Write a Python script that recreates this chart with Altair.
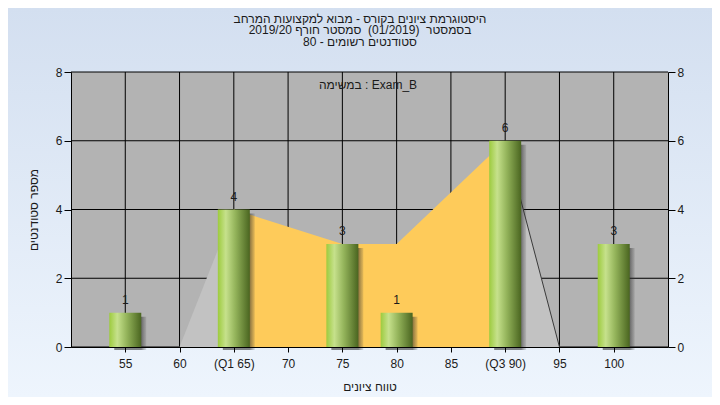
import altair as alt
import pandas as pd

# ---------------- data ----------------
ticks = [55, 60, 65, 70, 75, 80, 85, 90, 95, 100]
tick_labels = ["55", "60", "(Q1 65)", "70", "75", "80", "85", "(Q3 90)", "95", "100"]
bar_x = [55, 65, 75, 80, 90, 100]
bar_counts = [1, 4, 3, 1, 6, 3]
poly_x = [60, 65, 75, 80, 90, 95]
poly_y = [0, 4, 3, 3, 6, 0]
q1, q3 = 65, 90
y_ticks = [0, 2, 4, 6, 8]
title_lines = [
    "היסטוגרמת ציונים בקורס - מבוא למקצועות המרחב",
    "בסמסטר\u00a0 (01/2019)\u00a0 סמסטר חורף 2019/20",
    "סטודנטים רשומים - 80",
]
inner_text = "במשימה : Exam_B"
x_title = "טווח ציונים"
y_title = "מספר סטודנטים"

# ---------------- layout / style ----------------
W, H = 597, 275
PAD = {"left": 63, "top": 64, "right": 44, "bottom": 50}
FONT = "Liberation Sans"
TXT = "#1a1a1a"

one = pd.DataFrame({"k": [0]})
tick_df = pd.DataFrame({"tick": ticks})
ytick_df = pd.DataFrame({"v": y_ticks})
bar_df = pd.DataFrame({"x": bar_x, "n": bar_counts})

rows = []
for xv, yv in zip(poly_x, poly_y):
    if xv <= q1:
        rows.append({"x": xv, "y": yv, "seg": "low"})
    if q1 <= xv <= q3:
        rows.append({"x": xv, "y": yv, "seg": "mid"})
    if xv >= q3:
        rows.append({"x": xv, "y": yv, "seg": "high"})
poly_df = pd.DataFrame(rows)

label_expr = "datum.label"
for t, lab in zip(ticks, tick_labels):
    if lab != str(t):
        label_expr = f"datum.value == {t} ? '{lab}' : (" + label_expr + ")"

xscale = alt.Scale(domain=[50, 105], nice=False, zero=False, padding=0)
yscale = alt.Scale(domain=[0, 8], nice=False, zero=True, padding=0)

x_axis = alt.Axis(
    values=ticks, labelExpr=label_expr, title=x_title, grid=False,
    domainColor="black", tickColor="black", tickSize=5, labelPadding=6,
    labelFont=FONT, labelFontSize=12, labelColor=TXT, labelFlush=False,
    labelOverlap=False, titleFont=FONT, titleFontSize=12,
    titleFontWeight="normal", titleColor=TXT, titlePadding=12, zindex=1,
)
y_left = alt.Axis(
    values=y_ticks, title=y_title, grid=False, domainColor="black",
    tickColor="black", tickSize=7, labelPadding=2, labelFont=FONT,
    labelFontSize=12, labelColor=TXT, titleFont=FONT, titleFontSize=12,
    titleFontWeight="normal", titleColor=TXT, titlePadding=15, zindex=1,
)
y_right = alt.Axis(
    values=y_ticks, title=None, orient="right", grid=False, domainColor="black",
    tickColor="black", tickSize=7, labelPadding=2, labelFont=FONT,
    labelFontSize=12, labelColor=TXT, zindex=1,
)

X = lambda f: alt.X(f, scale=xscale, axis=x_axis)
Y = lambda f: alt.Y(f, scale=yscale, axis=y_left, stack=None)

bg = alt.Chart(one).mark_rect(
    color=alt.Gradient(
        gradient="linear", x1=0, x2=0, y1=0, y2=1,
        stops=[alt.GradientStop(color="#d3dff0", offset=0),
               alt.GradientStop(color="#eef5fd", offset=1)],
    )
).encode(x=alt.value(-PAD["left"]), x2=alt.value(W + PAD["right"]),
         y=alt.value(-PAD["top"]), y2=alt.value(H + PAD["bottom"]))

plotbg = alt.Chart(one).mark_rect(color="#b3b3b3").encode(
    x=alt.value(0), x2=alt.value(W), y=alt.value(0), y2=alt.value(H))

vgrid = alt.Chart(tick_df).mark_rule(color="black", strokeWidth=1).encode(
    x=X("tick:Q"), y=alt.value(0), y2=alt.value(H))
hgrid = alt.Chart(ytick_df).mark_rule(color="black", strokeWidth=1).encode(
    y=Y("v:Q"), x=alt.value(0), x2=alt.value(W))

area = alt.Chart(poly_df).mark_area(opacity=1).encode(
    x=X("x:Q"), y=Y("y:Q"),
    color=alt.Color("seg:N", legend=None,
                    scale=alt.Scale(domain=["low", "mid", "high"],
                                    range=["#c2c2c2", "#fecb5a", "#c2c2c2"])),
)
edge = alt.Chart(poly_df).transform_filter(alt.datum.seg == "high").mark_line(
    color="#3a3a3a", strokeWidth=1).encode(x=X("x:Q"), y=Y("y:Q"))

shadow = alt.Chart(bar_df).mark_bar(
    size=32, xOffset=5, yOffset=4, y2Offset=3,
    color=alt.Gradient(
        gradient="linear", x1=0, x2=1, y1=0, y2=0,
        stops=[alt.GradientStop(color="rgba(40,40,40,0.55)", offset=0),
               alt.GradientStop(color="rgba(40,40,40,0.55)", offset=0.84),
               alt.GradientStop(color="rgba(60,60,60,0.12)", offset=1)],
    ),
).encode(x=X("x:Q"), y=Y("n:Q"), y2=alt.Y2(datum=0))

bars = alt.Chart(bar_df).mark_bar(
    size=32,
    color=alt.Gradient(
        gradient="linear", x1=0, x2=1, y1=0, y2=0,
        stops=[alt.GradientStop(color="#9dcb3e", offset=0),
               alt.GradientStop(color="#c6e18c", offset=0.25),
               alt.GradientStop(color="#93b35a", offset=0.55),
               alt.GradientStop(color="#4a6520", offset=1)],
    ),
).encode(x=X("x:Q"), y=Y("n:Q"), y2=alt.Y2(datum=0))

labels = alt.Chart(bar_df).mark_text(
    baseline="alphabetic", align="center", dy=-9, font=FONT, fontSize=12,
    color=TXT).encode(x=X("x:Q"), y=Y("n:Q"), text="n:Q")

title_layers = [
    alt.Chart(one).mark_text(
        align="center", baseline="alphabetic", font=FONT, fontSize=12,
        color=TXT).encode(x=alt.value(289), y=alt.value(-49.5 + 11.5 * i),
                          text=alt.value(line))
    for i, line in enumerate(title_lines)
]

inner = alt.Chart(one).mark_text(
    align="center", baseline="alphabetic", font=FONT, fontSize=12,
    color=TXT).encode(x=alt.value(297), y=alt.value(17),
                      text=alt.value(inner_text))

main = alt.layer(bg, plotbg, vgrid, hgrid, area, edge, shadow, bars,
                 labels, *title_layers, inner)

right = alt.Chart(ytick_df).mark_point(opacity=0).encode(
    x=alt.X("v:Q", scale=xscale, axis=x_axis),
    y=alt.Y("v:Q", scale=yscale, axis=y_right))

chart = alt.layer(main, right).resolve_scale(y="independent").properties(
    width=W, height=H,
    autosize=alt.AutoSizeParams(type="none"),
    padding=PAD,
).configure_view(stroke=None)

chart.save("out.html", embed_options={"renderer": "svg", "actions": False})
